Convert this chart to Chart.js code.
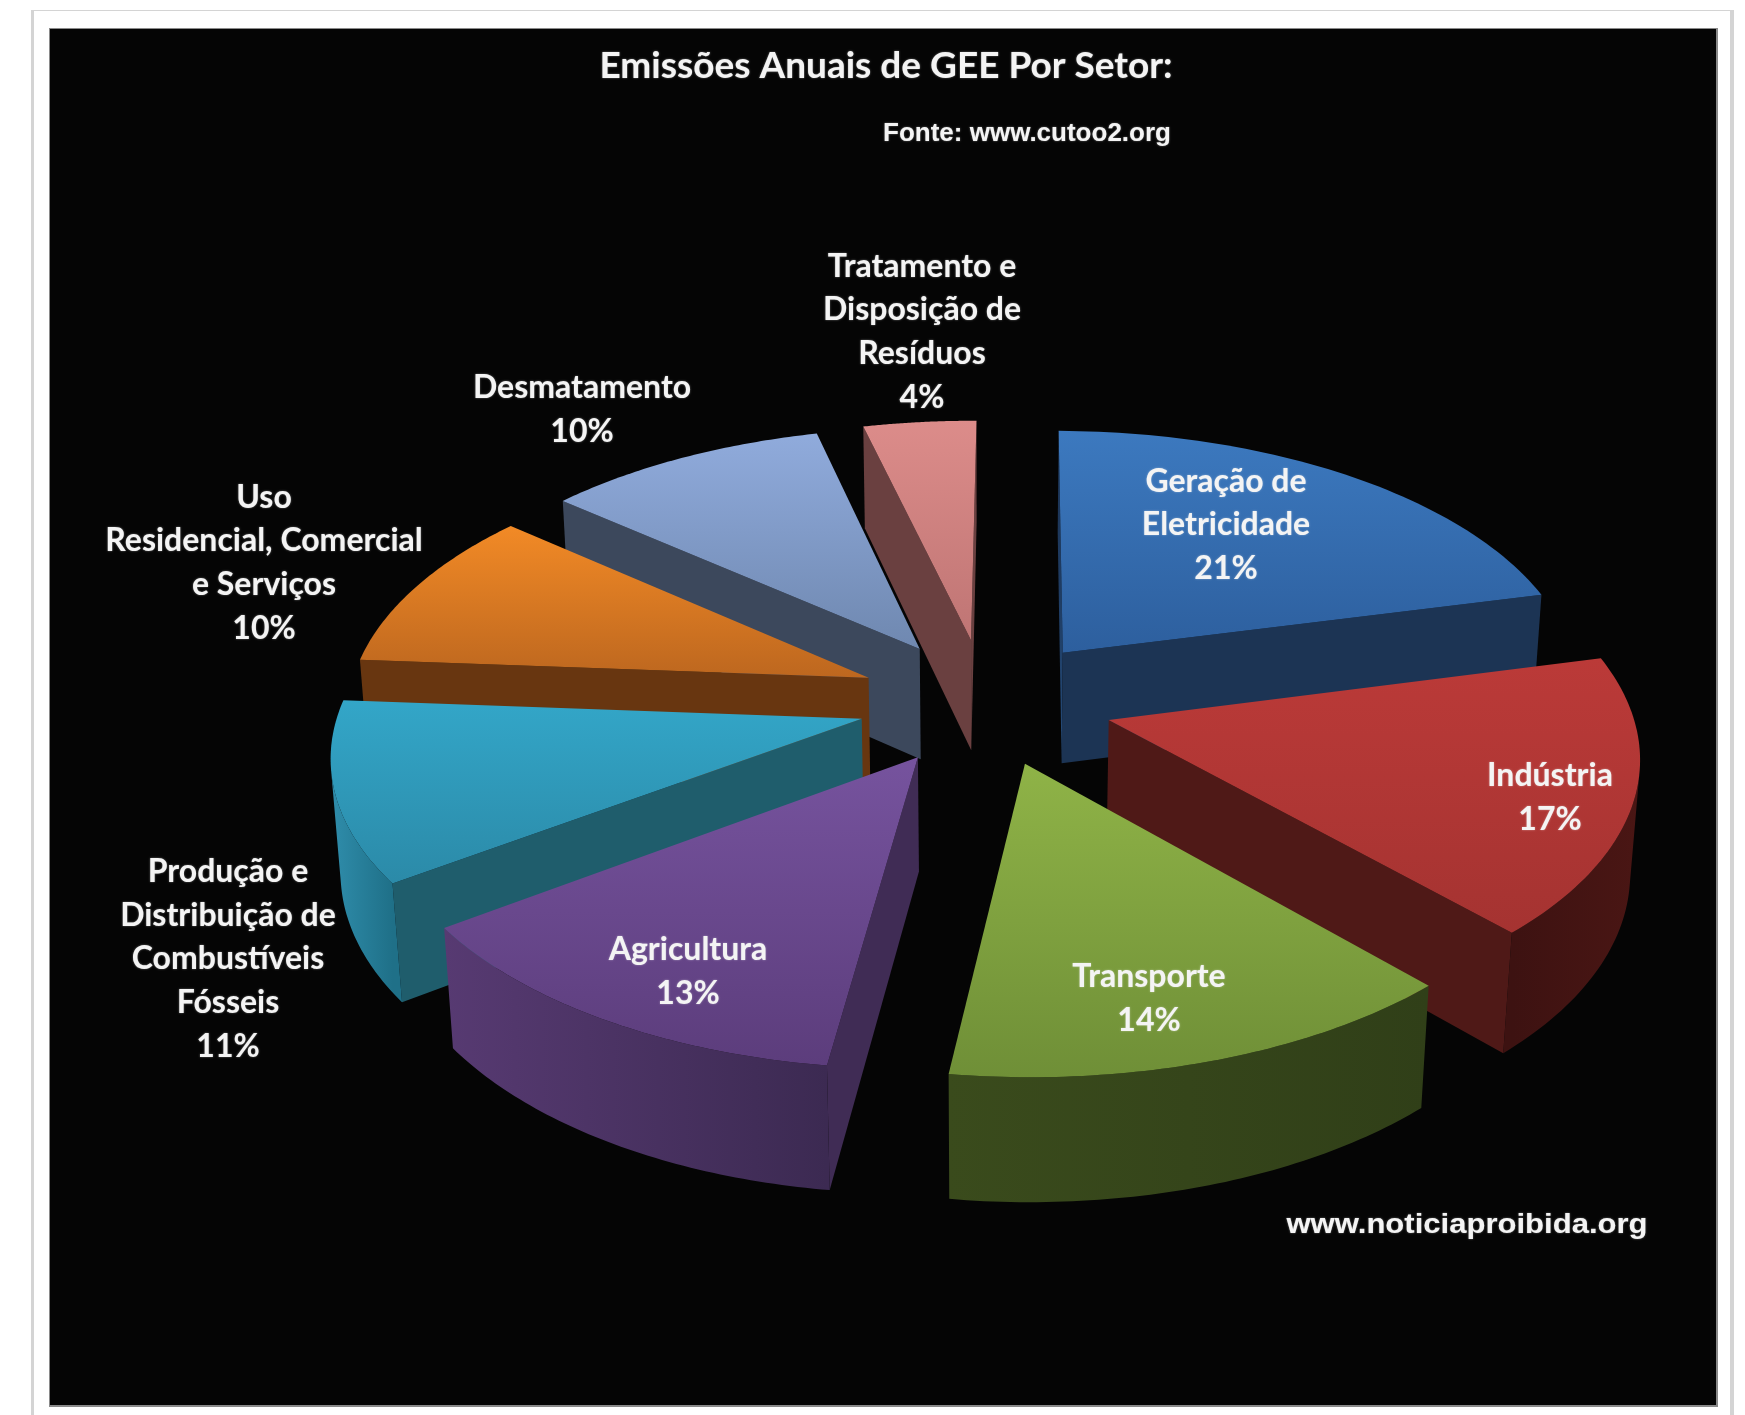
<!DOCTYPE html>
<html>
<head>
<meta charset="utf-8">
<title>Emissões Anuais de GEE Por Setor</title>
<script src="https://cdn.jsdelivr.net/npm/chart.js@4"></script>
<style>
html,body{margin:0;padding:0;background:#fff;}
canvas{display:block;}
</style>
</head>
<body>
<canvas id="grafica" width="1745" height="1415"></canvas>
<script>
// datos
var setores = ['Geração de Eletricidade','Indústria','Transporte','Agricultura','Produção e Distribuição de Combustíveis Fósseis','Uso Residencial, Comercial e Serviços','Desmatamento','Tratamento e Disposição de Resíduos'];
var valores = [21,17,14,13,11,10,10,4];

// estilo de cada fatia
var corTopo1 = ['#3c79bf','#bb3a38','#8fb347','#76539e','#33a6c8','#f28a26','#90abdc','#dc8c8a'];
var corTopo2 = ['#2d5f9e','#a53331','#6f8f37','#5c3d7c','#2b8aa8','#bd671f','#6f88b0','#bf7574'];
var corLado1 = ['#1a3050','#521816','#3c4c1b','#402c55','#1f5d6c','#683610','#3c485c','#6a4040'];
var corLado2 = ['#244a78','#521816','#3c4c1b','#402c55','#1f5d6c','#683610','#3c485c','#6a4040'];
var corFim = ['#1c3454','#4f1917','#3c4c1b','#5d4082','#1f5d6c','#683610','#3c485c','#6a4040'];
var foraIni = ['#1c3454','#4a1614','#303f18','#3c2a52','#1f7088','#683610','#3c485c','#6a4040'];
var foraFim = ['#1c3454','#3d1211','#3a4b1c','#573a72','#2f8dab','#683610','#3c485c','#6a4040'];

// rotulos (linhas e centro do bloco em pixels)
var linhas = [['Geração de','Eletricidade'],['Indústria'],['Transporte'],['Agricultura'],['Produção e','Distribuição de','Combustíveis','Fósseis'],['Uso','Residencial, Comercial','e Serviços'],['Desmatamento'],['Tratamento e','Disposição de','Resíduos']];
var rotuloX = [1226,1550,1149,688,228,264,582,922];
var rotuloY = [525,798,999,972,959,563,410,332];

// perspectiva
var escalaX = 521, escalaY = 259.5, fuga = 0.12, altura = 114, fugaAltura = 0.015;

function projeta (cx, cy, u, v, z){
    var w = 1 - fuga*v + fugaAltura*z;
    return {x: cx + escalaX*u/w, y: cy + (escalaY*v + altura*z)/w};
}

function quadro (ctx){
    ctx.fillStyle = '#d4d4d4';
    ctx.fillRect(31,10,1703,1405);
    ctx.fillStyle = '#ffffff';
    ctx.fillRect(34,11,1696,1404);
    ctx.fillStyle = '#8a8a8a';
    ctx.fillRect(49,28,1669,1379);
    ctx.fillStyle = '#050505';
    ctx.fillRect(50,29,1666,1376);
}

function caminho (ctx, lista){
    ctx.beginPath();
    lista.forEach(function(p,j){ if(j==0) ctx.moveTo(p.x,p.y); else ctx.lineTo(p.x,p.y); });
    ctx.closePath();
}

function visivel (cx, cy, a, b){
    var p1 = projeta(cx,cy,a.u,a.v,0), p2 = projeta(cx,cy,b.u,b.v,0);
    var p3 = projeta(cx,cy,b.u,b.v,1), p4 = projeta(cx,cy,a.u,a.v,1);
    var area = p1.x*p2.y-p2.x*p1.y + p2.x*p3.y-p3.x*p2.y + p3.x*p4.y-p4.x*p3.y + p4.x*p1.y-p1.x*p4.y;
    return area < 0;
}

function parede (ctx, cx, cy, a, b, cor1, cor2){
    if(!visivel(cx,cy,a,b)) return;
    var lista = [projeta(cx,cy,a.u,a.v,0),projeta(cx,cy,b.u,b.v,0),projeta(cx,cy,b.u,b.v,1),projeta(cx,cy,a.u,a.v,1)];
    var ys = lista.map(function(p){ return p.y; });
    var grad = ctx.createLinearGradient(0,Math.min.apply(null,ys),0,Math.max.apply(null,ys));
    grad.addColorStop(0,cor1);
    grad.addColorStop(1,cor2);
    ctx.fillStyle = grad;
    caminho(ctx,lista);
    ctx.fill();
}

// a parede curva sai inteira num so poligono, para nao deixar riscas
function paredeFora (ctx, cx, cy, pontos, i){
    var cima = [], baixo = [];
    function fecha (){
        if(cima.length < 2) { cima = []; baixo = []; return; }
        var lista = cima.concat(baixo.reverse());
        var ini = cima[0], fim = cima[cima.length-1];
        var grad = ctx.createLinearGradient(ini.x,0,fim.x,0);
        grad.addColorStop(0,foraIni[i]);
        grad.addColorStop(1,foraFim[i]);
        ctx.fillStyle = grad;
        caminho(ctx,lista);
        ctx.fill();
        cima = []; baixo = [];
    }
    for(var k=0;k<pontos.length-1;k++){
        var a = pontos[k], b = pontos[k+1];
        if(visivel(cx,cy,a,b)){
            if(cima.length==0){
                cima.push(projeta(cx,cy,a.u,a.v,0));
                baixo.push(projeta(cx,cy,a.u,a.v,1));
            }
            cima.push(projeta(cx,cy,b.u,b.v,0));
            baixo.push(projeta(cx,cy,b.u,b.v,1));
        }else{
            fecha();
        }
    }
    fecha();
}

function fatia (ctx, arco, i){
    var g = arco.getProps(['x','y','startAngle','endAngle','outerRadius']);
    var meio = (g.startAngle+g.endAngle)/2;
    var desvio = arco.options.offset/g.outerRadius;
    var pu = desvio*Math.cos(meio), pv = desvio*Math.sin(meio);
    var pontos = [];
    var n = 60;
    for(var k=0;k<=n;k++){
        var t = g.startAngle+(g.endAngle-g.startAngle)*k/n;
        pontos.push({u:pu+Math.cos(t), v:pv+Math.sin(t)});
    }
    var apice = {u:pu, v:pv};

    parede(ctx,g.x,g.y,apice,pontos[0],corLado1[i],corLado2[i]);
    parede(ctx,g.x,g.y,pontos[n],apice,corFim[i],corFim[i]);
    paredeFora(ctx,g.x,g.y,pontos,i);

    var topo = [projeta(g.x,g.y,apice.u,apice.v,0)];
    var minY = 1e9, maxY = -1e9;
    pontos.forEach(function(p){ topo.push(projeta(g.x,g.y,p.u,p.v,0)); });
    topo.forEach(function(p){ minY = Math.min(minY,p.y); maxY = Math.max(maxY,p.y); });
    var grad = ctx.createLinearGradient(0,minY,0,maxY);
    grad.addColorStop(0,corTopo1[i]);
    grad.addColorStop(1,corTopo2[i]);
    ctx.fillStyle = grad;
    caminho(ctx,topo);
    ctx.fill();
}

function textos (ctx){
    ctx.textAlign = 'center';
    ctx.textBaseline = 'middle';
    ctx.fillStyle = '#f4f4f4';
    ctx.shadowColor = 'rgba(255,255,255,0.45)';
    ctx.shadowBlur = 2;
    ctx.font = 'bold 37px Lato';
    ctx.fillText('Emissões Anuais de GEE Por Setor:',886,66);
    ctx.font = 'bold 26px "Liberation Sans"';
    ctx.fillText('Fonte: www.cutoo2.org',1027,134);

    // a marca de agua e mais larga que a fonte normal
    ctx.save();
    ctx.translate(1467,1226);
    ctx.scale(1.15,1);
    ctx.font = 'bold 27px "Liberation Sans"';
    ctx.fillText('www.noticiaproibida.org',0,0);
    ctx.restore();

    ctx.font = 'bold 32px Lato';
    linhas.forEach(function(l,i){
        var todas = l.concat([valores[i]+'%']);
        var y = rotuloY[i]-(todas.length-1)*43.8/2;
        todas.forEach(function(t,j){ ctx.fillText(t,rotuloX[i],y+j*43.8); });
    });
    ctx.shadowBlur = 0;
}

var pizza3d = {
    id:'pizza3d',
    beforeDraw:function(chart){
        quadro(chart.ctx);
    },
    beforeDatasetsDraw:function(chart){
        var ctx = chart.ctx;
        var arcos = chart.getDatasetMeta(0).data;
        var ordem = arcos.map(function(a,i){
            var m = (a.startAngle+a.endAngle)/2;
            return {i:i, v:Math.sin(m)};
        }).sort(function(a,b){ return a.v-b.v; });
        ctx.save();
        ordem.forEach(function(o){ fatia(ctx,arcos[o.i],o.i); });
        textos(ctx);
        ctx.restore();
        return false;
    }
};

var grafica = new Chart(document.getElementById('grafica').getContext('2d'),{
    type:'pie',
    data:{
        labels:setores,
        datasets:[{
            data:valores,
            backgroundColor:corTopo1,
            borderWidth:0,
            offset:153
        }]
    },
    options:{
        responsive:false,
        animation:false,
        rotation:0.5,
        layout:{padding:{left:226,bottom:12}},
        plugins:{
            legend:{display:false},
            tooltip:{enabled:false}
        }
    },
    plugins:[pizza3d]
});
</script>
</body>
</html>
